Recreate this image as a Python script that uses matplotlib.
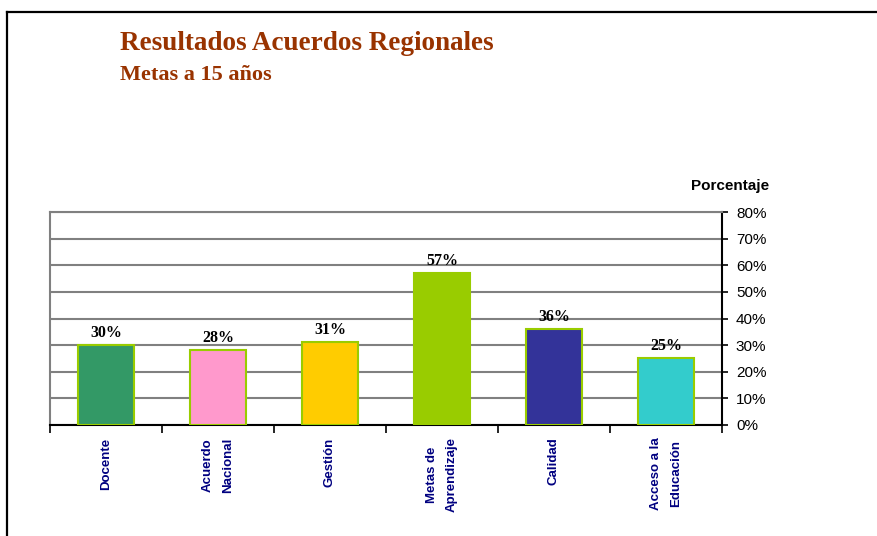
import numpy as np
import matplotlib
matplotlib.use('Agg')
import matplotlib.pyplot as plt
from matplotlib.lines import Line2D

# data
categories = ["Docente", "Acuerdo\nNacional", "Gestión", "Metas de\nAprendizaje",
              "Calidad", "Acceso a la\nEducación"]
values = [30, 28, 31, 57, 36, 25]
bar_colors = ["#339966", "#FF99CC", "#FFCC00", "#99CC00", "#333399", "#33CCCC"]
yticks = [0, 10, 20, 30, 40, 50, 60, 70, 80]

W, H = 878, 536
fig = plt.figure(figsize=(W / 100, H / 100), dpi=100)

# outer frame (top and left only)
fig.add_artist(Line2D([7 / W, 1], [1 - 12 / H, 1 - 12 / H], color="black", lw=1.6,
                      transform=fig.transFigure))
fig.add_artist(Line2D([7 / W, 7 / W], [0, 1 - 12 / H], color="black", lw=1.6,
                      transform=fig.transFigure))

title_color = "#993300"
fig.text(120 / W, 1 - 50 / H, "Resultados Acuerdos Regionales", color=title_color,
         family="Liberation Serif", weight="bold", fontsize=19.5, va="baseline")
fig.text(120 / W, 1 - 80 / H, "Metas a 15 años", color=title_color,
         family="Liberation Serif", weight="bold", fontsize=16, va="baseline")

ax = fig.add_axes([50 / W, (H - 425) / H, 672 / W, 213 / H])
x = np.arange(len(categories))
bars = ax.bar(x, values, width=0.5, color=bar_colors, edgecolor="#99CC00",
              linewidth=1.5, zorder=3)

for xi, v in zip(x, values):
    ax.annotate(f"{v}%", (xi, v), xytext=(0, 3), textcoords="offset points",
                ha="center", va="bottom", family="Liberation Serif",
                weight="bold", fontsize=11.5)

ax.set_xlim(-0.5, len(categories) - 0.5)
ax.set_ylim(0, 80)

# y axis on the right
ax.yaxis.tick_right()
ax.set_yticks(yticks)
ax.set_yticklabels([f"{t}%" for t in yticks], family="Liberation Sans", fontsize=11)
ax.tick_params(axis="y", direction="out", length=4, width=1.2, pad=6, colors="black")
ax.grid(axis="y", color="#808080", lw=1.5, zorder=0)

# category labels at centres, ticks at boundaries
ax.set_xticks(x)
ax.set_xticklabels(categories, rotation=90, ha="center", va="top",
                   multialignment="center", linespacing=1.9,
                   family="Liberation Sans", weight="bold", fontsize=9.5,
                   color="#000080")
ax.tick_params(axis="x", length=0, pad=9)
ax.set_xticks(np.arange(len(categories) + 1) - 0.5, minor=True)
ax.tick_params(axis="x", which="minor", direction="out", length=6, width=1.2)

for side in ["left", "top"]:
    ax.spines[side].set_color("#808080")
    ax.spines[side].set_linewidth(1.5)
for side in ["bottom", "right"]:
    ax.spines[side].set_color("black")
    ax.spines[side].set_linewidth(1.5)

fig.text(730 / W, 1 - 186 / H, "Porcentaje", family="Liberation Sans", weight="bold",
         fontsize=11, ha="center", va="center")

fig.savefig("out.png", dpi=100)
